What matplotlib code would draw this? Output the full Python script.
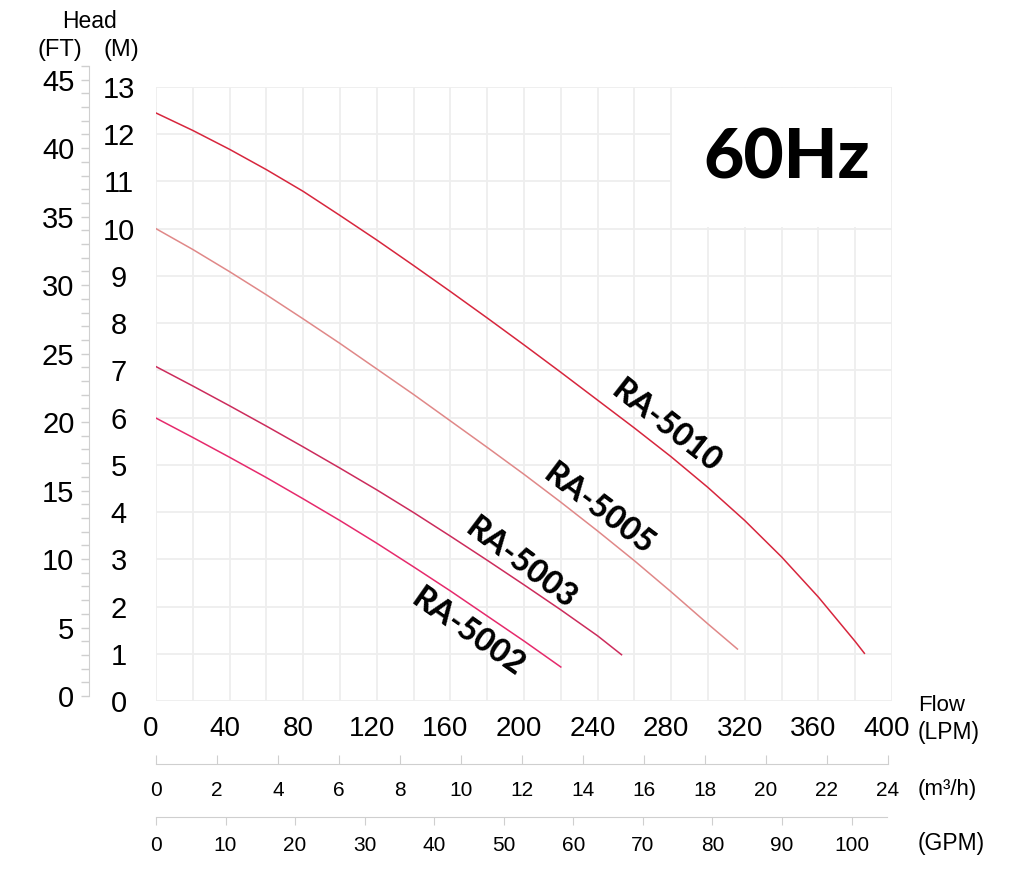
import matplotlib
matplotlib.use("Agg")
import matplotlib.pyplot as plt
import matplotlib.transforms as mtransforms
from matplotlib.patches import Rectangle

# curve data, flow in LPM, head in metres
flow_5010 = [0, 20, 40, 60, 80, 100, 120, 140, 160, 180, 200, 220, 240, 260, 280, 300, 320, 340, 360, 380, 385]
head_5010 = [12.45, 12.08, 11.68, 11.25, 10.79, 10.28, 9.76, 9.22, 8.67, 8.11, 7.54, 6.96, 6.37, 5.78, 5.17,
             4.52, 3.82, 3.05, 2.20, 1.26, 1.01]
flow_5005 = [0, 20, 40, 60, 80, 100, 120, 140, 160, 180, 200, 220, 240, 260, 280, 300, 316]
head_5005 = [10.0, 9.56, 9.09, 8.60, 8.09, 7.57, 7.03, 6.49, 5.93, 5.37, 4.80, 4.21, 3.60, 2.97, 2.31, 1.63, 1.10]
flow_5003 = [0, 20, 40, 60, 80, 100, 120, 140, 160, 180, 200, 220, 240, 253]
head_5003 = [7.08, 6.67, 6.25, 5.82, 5.38, 4.93, 4.47, 3.99, 3.49, 2.98, 2.46, 1.93, 1.38, 0.98]
flow_5002 = [0, 20, 40, 60, 80, 100, 120, 140, 160, 180, 200, 220]
head_5002 = [5.99, 5.58, 5.16, 4.73, 4.28, 3.82, 3.34, 2.84, 2.33, 1.80, 1.27, 0.72]

models = ["RA-5010", "RA-5005", "RA-5003", "RA-5002"]
colors = ["#d7263d", "#e08888", "#cc2c5c", "#e62a6c"]
# label anchor (flow, head) and angle
label_pos = [(277.7, 5.82, -38), (240.6, 4.05, -37), (198.4, 2.92, -37), (169.6, 1.46, -35)]

lpm_ticks = list(range(0, 401, 40))
m_ticks = list(range(0, 14))
ft_ticks = list(range(0, 46, 5))
m3h_ticks = list(range(0, 25, 2))
gpm_ticks = list(range(0, 101, 10))

plt.rcParams['font.family'] = ['Liberation Sans', 'DejaVu Sans']
bold_font = ["Lato", "DejaVu Sans"]

W, H = 1024, 880
fig = plt.figure(figsize=(W / 100, H / 100), dpi=100)


def box(x0, y_top, x1, y_bot):
    # pixel box -> figure fraction rect
    return [x0 / W, 1 - y_bot / H, (x1 - x0) / W, (y_bot - y_top) / H]


grid_c = "#eeeeee"
axis_c = "#cfcfcf"

# main chart
ax = fig.add_axes(box(156, 87, 892, 701))
ax.set_xlim(0, 400)
ax.set_ylim(0, 13)
ax.set_xticks(lpm_ticks)
ax.set_xticks(range(20, 400, 40), minor=True)
ax.set_yticks(m_ticks)
ax.grid(True, which="both", color=grid_c, linewidth=1.3)
ax.set_axisbelow(True)
for s in ax.spines.values():
    s.set_visible(False)
ax.tick_params(axis="x", which="both", length=0, pad=11, labelsize=20)
ax.tick_params(axis="y", length=0, pad=27, labelsize=21)
for lab in ax.get_yticklabels():
    lab.set_horizontalalignment("center")
shift = mtransforms.ScaledTranslation(-5 / 100, 0, fig.dpi_scale_trans)
for lab in ax.get_xticklabels():
    lab.set_transform(lab.get_transform() + shift)

# white panel behind the frequency label
ax.add_patch(Rectangle((280.6, 10.03), 118.8, 2.94, facecolor="white", edgecolor="none", zorder=1))
ax.text(343, 11.48, "60Hz", fontsize=50, fontweight="black", family=bold_font,
        ha="center", va="center", zorder=3)

curves = [(flow_5010, head_5010), (flow_5005, head_5005), (flow_5003, head_5003), (flow_5002, head_5002)]
for (fx, hy), name, c, (lx, ly, rot) in zip(curves, models, colors, label_pos):
    ax.plot(fx, hy, color=c, linewidth=1.1, zorder=2, solid_joinstyle="round")
    ax.text(lx, ly, name, fontsize=23, fontweight="black", family=bold_font,
            rotation=rot, rotation_mode="anchor", ha="center", va="center", zorder=3)

# feet axis on the left
ax_ft = fig.add_axes(box(89, 66, 89.01, 696))
ax_ft.set_ylim(0, 46)
ax_ft.set_xticks([])
ax_ft.patch.set_visible(False)
for k in ["top", "right", "bottom"]:
    ax_ft.spines[k].set_visible(False)
ax_ft.spines["left"].set_color(axis_c)
ax_ft.set_yticks(ft_ticks)
ax_ft.set_yticks(range(0, 47), minor=True)
ax_ft.tick_params(axis="y", which="both", length=5.5, color=axis_c, width=1)
ax_ft.tick_params(axis="y", which="major", pad=5, labelsize=21)

# m3/h axis
ax_m3 = fig.add_axes(box(156, 700, 888, 764))
ax_m3.set_xlim(0, 24)
ax_m3.set_xticks(m3h_ticks)
ax_m3.set_yticks([])
ax_m3.patch.set_visible(False)
for k in ["top", "right", "left"]:
    ax_m3.spines[k].set_visible(False)
ax_m3.spines["bottom"].set_color(axis_c)
ax_m3.tick_params(axis="x", direction="in", length=6.5, color=axis_c, pad=12, labelsize=15)

# GPM axis
ax_g = fig.add_axes(box(156, 770, 887, 817))
ax_g.set_xlim(0, 105.1)
ax_g.set_xticks(gpm_ticks)
ax_g.set_yticks([])
ax_g.patch.set_visible(False)
for k in ["top", "right", "left"]:
    ax_g.spines[k].set_visible(False)
ax_g.spines["bottom"].set_color(axis_c)
ax_g.tick_params(axis="x", direction="out", length=6, color=axis_c, pad=8, labelsize=15)

# axis titles
fig.text(90 / W, 1 - 22 / H, "Head", fontsize=16.5, ha="center", va="center")
fig.text(60 / W, 1 - 50 / H, "(FT)", fontsize=17, ha="center", va="center")
fig.text(121 / W, 1 - 50 / H, "(M)", fontsize=17, ha="center", va="center")
fig.text(918 / W, 1 - 705 / H, "Flow", fontsize=16, ha="left", va="center")
fig.text(918 / W, 1 - 732 / H, "(LPM)", fontsize=16.5, ha="left", va="center")
fig.text(918 / W, 1 - 789 / H, "(m³/h)", fontsize=16, ha="left", va="center")
fig.text(918 / W, 1 - 843 / H, "(GPM)", fontsize=16.5, ha="left", va="center")

fig.savefig("out.png", dpi=100, facecolor="white")
